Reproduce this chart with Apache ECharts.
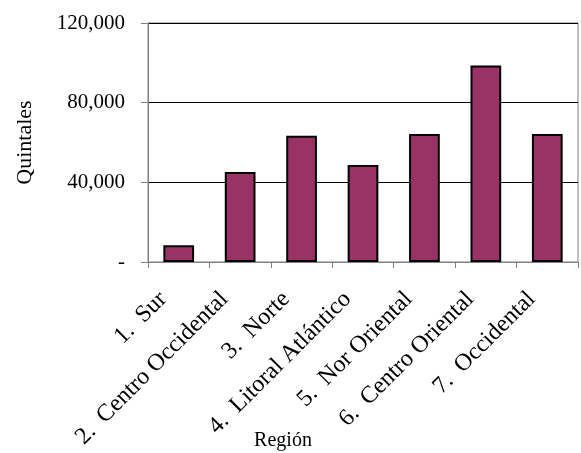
<!DOCTYPE html>
<html>
<head>
<meta charset="utf-8">
<script src="https://cdn.jsdelivr.net/npm/echarts@6/dist/echarts.min.js"></script>
<style>html,body{margin:0;padding:0;background:#fff}#c{width:581px;height:453px}</style>
</head>
<body>
<div id="c"></div>
<script>
var categories = ['1.  Sur', '2.  Centro Occidental', '3.  Norte', '4.  Litoral Atlántico', '5.  Nor Oriental', '6.  Centro Oriental', '7.  Occidental'];
var values = [8400, 45200, 63400, 48700, 64300, 98600, 64300];
var yTicks = [0, 40000, 80000, 120000];

var FONT = '"Liberation Serif", "Times New Roman", serif';
var chart = echarts.init(document.getElementById('c'));
chart.setOption({
  backgroundColor: '#fff',
  animation: false,
  grid: { left: 148, right: 3, top: 23, bottom: 191, show: true, borderColor: '#808080', borderWidth: 1, backgroundColor: 'transparent' },
  xAxis: {
    type: 'category',
    data: categories,
    axisLine: { lineStyle: { color: '#808080', width: 1 } },
    axisTick: { show: true, length: 6, lineStyle: { color: '#808080' } },
    axisLabel: {
      rotate: 45, fontFamily: FONT, fontSize: 24, color: '#000', margin: 18, interval: 0, padding: [0, 4, 0, 0],
      formatter: function (v) { return v + '\u00a0\u00a0\u00a0'; }
    }
  },
  yAxis: {
    type: 'value',
    min: yTicks[0],
    max: yTicks[yTicks.length - 1],
    interval: yTicks[1] - yTicks[0],
    name: 'Quintales',
    nameLocation: 'middle',
    nameRotate: 90,
    nameGap: 112,
    nameTextStyle: { fontFamily: FONT, fontSize: 22, color: '#000' },
    axisLine: { show: true, lineStyle: { color: '#808080', width: 1 } },
    axisTick: { show: true, length: 7, lineStyle: { color: '#808080' } },
    splitLine: { lineStyle: { color: '#000', width: 1 } },
    axisLabel: {
      fontFamily: FONT, fontSize: 21, color: '#000', margin: 23,
      formatter: function (v) { return v === 0 ? '-' : v.toLocaleString('en-US'); }
    }
  },
  graphic: [{
    type: 'text', x: 283, y: 441,
    style: { text: 'Región', font: '20px ' + FONT, fill: '#000', align: 'center', verticalAlign: 'middle' }
  }],
  series: [{
    type: 'bar',
    data: values,
    barWidth: '50%',
    itemStyle: { color: '#993366', borderColor: '#000', borderWidth: 2 }
  }]
});
</script>
</body>
</html>
